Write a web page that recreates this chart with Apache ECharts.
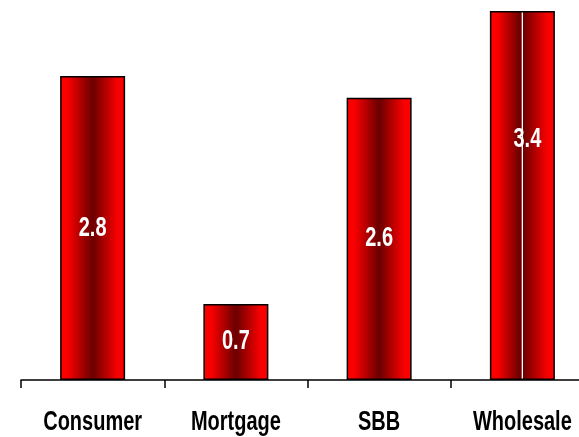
<!DOCTYPE html>
<html>
<head>
<meta charset="utf-8">
<script src="https://cdn.jsdelivr.net/npm/echarts@6/dist/echarts.min.js"></script>
<style>
  html, body { margin: 0; padding: 0; background: #fff; overflow: hidden; }
  /* 原图右侧被裁掉了一截，画布比窗口宽 */
  #chart { width: 600px; height: 437px; }
</style>
</head>
<body>
<div id="chart"></div>
<script>
  // 数据
  var categories = ['Consumer', 'Mortgage', 'SBB', 'Wholesale'];
  var values = [2.8, 0.7, 2.6, 3.4];

  var FONT = 'bold 27px "Liberation Sans", Arial, sans-serif';
  var SQUEEZE = 0.74; // 原图是窄体字

  function barGrad(split) {
    var stops = [
      { offset: 0, color: '#ff0000' },
      { offset: 0.12, color: '#f80000' },
      { offset: 0.5, color: '#6a0000' },
      { offset: 0.88, color: '#f80000' },
      { offset: 1, color: '#ff0000' }
    ];
    if (split) {
      // 原图 Wholesale 柱中间有一条白线
      stops = [
        { offset: 0, color: '#ff0000' },
        { offset: 0.12, color: '#f80000' },
        { offset: 0.47, color: '#6a0000' },
        { offset: 0.485, color: '#700000' },
        { offset: 0.49, color: '#ffffff' },
        { offset: 0.505, color: '#ffffff' },
        { offset: 0.51, color: '#700000' },
        { offset: 0.55, color: '#7a0000' },
        { offset: 0.88, color: '#f80000' },
        { offset: 1, color: '#ff0000' }
      ];
    }
    return new echarts.graphic.LinearGradient(0, 0, 1, 0, stops);
  }

  function renderLabels(params, api) {
    var i = params.dataIndex;
    var base = api.coord([i, 0]);
    var top = api.coord([i, api.value(1)]);
    var vy = (base[1] + top[1]) / 2;
    var vx = base[0];
    if (i === 3) { vx += 5; vy -= 56; }
    return {
      type: 'group',
      children: [
        {
          type: 'text', x: vx, y: vy, scaleX: SQUEEZE,
          style: {
            text: api.value(1).toFixed(1), fill: '#fff', font: FONT,
            textAlign: 'center', textVerticalAlign: 'middle'
          }
        },
        {
          type: 'text', x: base[0], y: base[1] + 43, scaleX: SQUEEZE,
          style: {
            text: categories[i], fill: '#000', font: FONT,
            textAlign: 'center', textVerticalAlign: 'middle'
          }
        }
      ]
    };
  }

  var myChart = echarts.init(document.getElementById('chart'));
  var option = {
    animation: false,
    grid: { left: 21, top: 11, width: 573, height: 369 },
    xAxis: {
      type: 'category',
      data: categories,
      axisLine: { lineStyle: { color: '#000', width: 1.5 } },
      axisTick: { show: true, interval: 0, length: 8, lineStyle: { color: '#000', width: 1.5 } },
      axisLabel: { show: false }
    },
    yAxis: {
      type: 'value',
      min: 0,
      max: 3.4,
      show: false,
      splitLine: { show: false }
    },
    series: [{
      type: 'bar',
      barWidth: 65,
      data: values.map(function (v, i) {
        return {
          value: v,
          itemStyle: {
            color: barGrad(i === 3),
            borderColor: '#000',
            borderWidth: 1.5
          }
        };
      })
    }, {
      type: 'custom',
      silent: true,
      clip: false,
      z: 10,
      data: values.map(function (v, i) { return [i, v]; }),
      renderItem: renderLabels
    }]
  };
  myChart.setOption(option);
</script>
</body>
</html>
